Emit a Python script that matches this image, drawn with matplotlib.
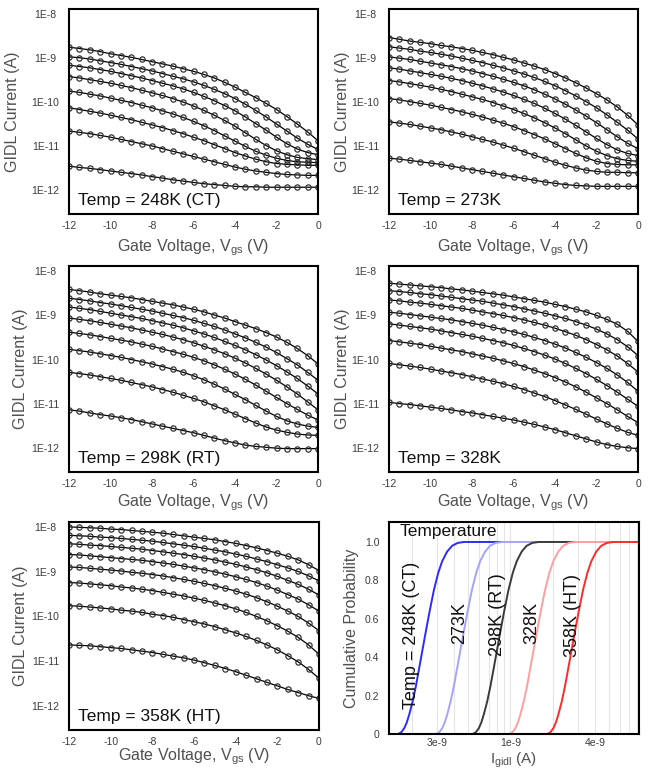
import numpy as np
import matplotlib
matplotlib.use("Agg")
import matplotlib.pyplot as plt
from matplotlib.ticker import LogLocator, NullLocator, NullFormatter

plt.rcParams['font.family'] = ['Liberation Sans', 'DejaVu Sans']

# gate voltage sweep (V)
vgs = [-12.0, -11.5, -11.0, -10.5, -10.0, -9.5, -9.0, -8.5, -8.0, -7.5, -7.0, -6.5,
       -6.0, -5.5, -5.0, -4.5, -4.0, -3.5, -3.0, -2.5, -2.0, -1.5, -1.0, -0.5, 0.0]

# log10 of GIDL current (A), 8 curves per temperature, top to bottom
log_i_248 = [
    [-8.75, -8.78, -8.81, -8.85, -8.90, -8.94, -8.98, -9.03, -9.08, -9.13, -9.18, -9.24, -9.30, -9.37, -9.45, -9.55, -9.66, -9.78, -9.90, -10.03, -10.17, -10.33, -10.50, -10.68, -10.88],
    [-8.97, -8.99, -9.02, -9.06, -9.10, -9.14, -9.19, -9.24, -9.29, -9.35, -9.41, -9.47, -9.54, -9.62, -9.71, -9.81, -9.92, -10.05, -10.19, -10.34, -10.50, -10.66, -10.82, -10.96, -11.08],
    [-9.16, -9.19, -9.22, -9.26, -9.30, -9.35, -9.40, -9.45, -9.51, -9.57, -9.63, -9.70, -9.78, -9.87, -9.97, -10.08, -10.20, -10.34, -10.49, -10.64, -10.80, -10.95, -11.07, -11.15, -11.20],
    [-9.42, -9.45, -9.49, -9.53, -9.57, -9.62, -9.67, -9.73, -9.79, -9.85, -9.92, -10.00, -10.09, -10.19, -10.30, -10.42, -10.55, -10.70, -10.85, -10.99, -11.11, -11.20, -11.26, -11.29, -11.31],
    [-9.75, -9.78, -9.82, -9.86, -9.91, -9.96, -10.01, -10.07, -10.13, -10.20, -10.27, -10.35, -10.44, -10.54, -10.65, -10.77, -10.89, -11.01, -11.12, -11.21, -11.28, -11.33, -11.36, -11.37, -11.38],
    [-10.13, -10.17, -10.21, -10.25, -10.30, -10.35, -10.40, -10.46, -10.52, -10.58, -10.65, -10.72, -10.80, -10.88, -10.97, -11.06, -11.15, -11.23, -11.30, -11.36, -11.40, -11.42, -11.43, -11.44, -11.44],
    [-10.66, -10.69, -10.72, -10.76, -10.80, -10.85, -10.90, -10.95, -11.00, -11.06, -11.12, -11.18, -11.24, -11.30, -11.36, -11.42, -11.48, -11.53, -11.57, -11.60, -11.63, -11.65, -11.66, -11.67, -11.67],
    [-11.46, -11.49, -11.51, -11.54, -11.57, -11.60, -11.63, -11.66, -11.70, -11.73, -11.77, -11.80, -11.83, -11.86, -11.88, -11.90, -11.92, -11.93, -11.93, -11.94, -11.94, -11.94, -11.94, -11.94, -11.94],
]
log_i_273 = [
    [-8.53, -8.57, -8.61, -8.64, -8.67, -8.71, -8.74, -8.78, -8.82, -8.87, -8.92, -8.98, -9.04, -9.11, -9.18, -9.26, -9.35, -9.45, -9.56, -9.68, -9.81, -9.95, -10.11, -10.30, -10.52],
    [-8.74, -8.77, -8.80, -8.84, -8.87, -8.91, -8.95, -9.00, -9.05, -9.10, -9.16, -9.22, -9.29, -9.36, -9.44, -9.53, -9.63, -9.74, -9.86, -9.99, -10.13, -10.29, -10.46, -10.64, -10.84],
    [-8.97, -9.00, -9.03, -9.07, -9.11, -9.15, -9.19, -9.24, -9.29, -9.35, -9.41, -9.48, -9.55, -9.63, -9.72, -9.82, -9.93, -10.05, -10.18, -10.32, -10.47, -10.63, -10.79, -10.94, -11.06],
    [-9.22, -9.25, -9.29, -9.33, -9.37, -9.41, -9.46, -9.51, -9.57, -9.63, -9.70, -9.77, -9.85, -9.94, -10.03, -10.14, -10.26, -10.39, -10.53, -10.68, -10.83, -10.97, -11.09, -11.17, -11.22],
    [-9.51, -9.54, -9.58, -9.62, -9.66, -9.71, -9.76, -9.82, -9.88, -9.94, -10.01, -10.09, -10.17, -10.26, -10.36, -10.47, -10.59, -10.72, -10.86, -11.00, -11.12, -11.22, -11.29, -11.33, -11.35],
    [-9.92, -9.95, -9.99, -10.03, -10.07, -10.12, -10.17, -10.22, -10.28, -10.34, -10.41, -10.48, -10.56, -10.65, -10.74, -10.84, -10.95, -11.06, -11.17, -11.27, -11.35, -11.40, -11.42, -11.43, -11.43],
    [-10.45, -10.48, -10.51, -10.55, -10.59, -10.63, -10.68, -10.73, -10.79, -10.85, -10.91, -10.98, -11.05, -11.13, -11.21, -11.29, -11.37, -11.44, -11.50, -11.55, -11.58, -11.60, -11.60, -11.61, -11.61],
    [-11.28, -11.30, -11.33, -11.36, -11.39, -11.42, -11.46, -11.50, -11.54, -11.58, -11.62, -11.66, -11.70, -11.74, -11.78, -11.82, -11.85, -11.88, -11.90, -11.91, -11.92, -11.92, -11.92, -11.92, -11.92],
]
log_i_298 = [
    [-8.41, -8.44, -8.47, -8.51, -8.54, -8.57, -8.60, -8.64, -8.68, -8.72, -8.76, -8.81, -8.86, -8.92, -8.99, -9.06, -9.14, -9.22, -9.30, -9.39, -9.49, -9.61, -9.75, -9.91, -10.10],
    [-8.61, -8.64, -8.67, -8.71, -8.74, -8.78, -8.82, -8.86, -8.90, -8.95, -9.00, -9.05, -9.11, -9.18, -9.25, -9.33, -9.42, -9.51, -9.61, -9.72, -9.84, -9.98, -10.12, -10.29, -10.47],
    [-8.81, -8.84, -8.87, -8.91, -8.95, -8.99, -9.03, -9.07, -9.12, -9.17, -9.22, -9.28, -9.35, -9.42, -9.50, -9.59, -9.68, -9.78, -9.89, -10.01, -10.14, -10.28, -10.43, -10.60, -10.78],
    [-9.06, -9.09, -9.12, -9.16, -9.20, -9.24, -9.28, -9.33, -9.38, -9.43, -9.49, -9.55, -9.62, -9.70, -9.78, -9.87, -9.97, -10.08, -10.20, -10.33, -10.47, -10.62, -10.78, -10.96, -11.14],
    [-9.38, -9.41, -9.44, -9.48, -9.52, -9.56, -9.60, -9.65, -9.70, -9.76, -9.82, -9.88, -9.95, -10.03, -10.12, -10.22, -10.33, -10.45, -10.58, -10.72, -10.86, -11.00, -11.13, -11.26, -11.37],
    [-9.77, -9.80, -9.83, -9.87, -9.91, -9.95, -10.00, -10.05, -10.10, -10.16, -10.22, -10.29, -10.37, -10.46, -10.56, -10.67, -10.79, -10.91, -11.04, -11.17, -11.29, -11.39, -11.46, -11.51, -11.54],
    [-10.29, -10.32, -10.35, -10.39, -10.43, -10.47, -10.52, -10.57, -10.62, -10.68, -10.74, -10.81, -10.88, -10.96, -11.05, -11.14, -11.24, -11.34, -11.44, -11.53, -11.60, -11.65, -11.69, -11.71, -11.72],
    [-11.14, -11.17, -11.21, -11.25, -11.28, -11.32, -11.36, -11.41, -11.46, -11.51, -11.56, -11.61, -11.66, -11.72, -11.78, -11.84, -11.89, -11.94, -11.97, -11.99, -12.01, -12.02, -12.02, -12.02, -12.02],
]
log_i_328 = [
    [-8.27, -8.29, -8.31, -8.33, -8.35, -8.37, -8.40, -8.42, -8.45, -8.48, -8.51, -8.54, -8.58, -8.62, -8.66, -8.70, -8.75, -8.80, -8.86, -8.92, -9.00, -9.09, -9.20, -9.36, -9.59],
    [-8.44, -8.46, -8.48, -8.51, -8.53, -8.56, -8.59, -8.62, -8.65, -8.68, -8.72, -8.76, -8.80, -8.85, -8.90, -8.95, -9.01, -9.07, -9.14, -9.22, -9.31, -9.42, -9.55, -9.71, -9.91],
    [-8.65, -8.67, -8.70, -8.72, -8.75, -8.78, -8.81, -8.84, -8.88, -8.92, -8.96, -9.00, -9.05, -9.10, -9.16, -9.22, -9.29, -9.37, -9.45, -9.55, -9.66, -9.78, -9.92, -10.09, -10.28],
    [-8.93, -8.95, -8.98, -9.01, -9.04, -9.07, -9.10, -9.14, -9.18, -9.22, -9.27, -9.32, -9.37, -9.43, -9.50, -9.57, -9.65, -9.74, -9.84, -9.95, -10.07, -10.20, -10.35, -10.52, -10.72],
    [-9.19, -9.22, -9.25, -9.28, -9.31, -9.35, -9.39, -9.43, -9.47, -9.52, -9.57, -9.62, -9.68, -9.75, -9.82, -9.90, -9.99, -10.09, -10.20, -10.32, -10.45, -10.59, -10.74, -10.90, -11.06],
    [-9.57, -9.60, -9.63, -9.66, -9.70, -9.74, -9.78, -9.82, -9.87, -9.92, -9.97, -10.03, -10.09, -10.16, -10.24, -10.32, -10.41, -10.51, -10.62, -10.74, -10.87, -11.00, -11.14, -11.29, -11.43],
    [-10.09, -10.12, -10.15, -10.18, -10.22, -10.26, -10.30, -10.34, -10.39, -10.44, -10.49, -10.55, -10.61, -10.68, -10.76, -10.84, -10.93, -11.03, -11.13, -11.24, -11.35, -11.46, -11.56, -11.65, -11.72],
    [-10.97, -11.00, -11.02, -11.05, -11.08, -11.11, -11.14, -11.18, -11.21, -11.25, -11.29, -11.33, -11.37, -11.42, -11.47, -11.53, -11.59, -11.66, -11.73, -11.80, -11.87, -11.93, -11.97, -12.00, -12.02],
]
log_i_358 = [
    [-7.99, -8.00, -8.01, -8.02, -8.04, -8.05, -8.07, -8.09, -8.11, -8.13, -8.16, -8.19, -8.22, -8.25, -8.28, -8.32, -8.36, -8.41, -8.46, -8.52, -8.58, -8.65, -8.73, -8.84, -8.97],
    [-8.18, -8.19, -8.20, -8.22, -8.23, -8.25, -8.27, -8.29, -8.31, -8.34, -8.37, -8.40, -8.43, -8.47, -8.51, -8.55, -8.60, -8.65, -8.71, -8.77, -8.84, -8.91, -8.99, -9.09, -9.20],
    [-8.37, -8.38, -8.40, -8.41, -8.43, -8.45, -8.47, -8.49, -8.52, -8.55, -8.58, -8.61, -8.65, -8.69, -8.73, -8.78, -8.83, -8.89, -8.95, -9.02, -9.10, -9.19, -9.28, -9.39, -9.52],
    [-8.61, -8.62, -8.64, -8.66, -8.68, -8.70, -8.72, -8.74, -8.77, -8.80, -8.83, -8.87, -8.91, -8.95, -9.00, -9.05, -9.11, -9.17, -9.24, -9.32, -9.41, -9.51, -9.61, -9.74, -9.88],
    [-8.89, -8.90, -8.92, -8.94, -8.96, -8.98, -9.01, -9.03, -9.06, -9.09, -9.13, -9.17, -9.21, -9.26, -9.31, -9.37, -9.43, -9.50, -9.58, -9.67, -9.77, -9.88, -10.00, -10.15, -10.32],
    [-9.24, -9.25, -9.27, -9.29, -9.31, -9.34, -9.36, -9.39, -9.42, -9.46, -9.50, -9.54, -9.59, -9.64, -9.70, -9.76, -9.83, -9.91, -10.00, -10.10, -10.21, -10.33, -10.47, -10.64, -10.85],
    [-9.76, -9.77, -9.79, -9.81, -9.83, -9.86, -9.88, -9.91, -9.95, -9.98, -10.02, -10.07, -10.12, -10.17, -10.23, -10.30, -10.37, -10.45, -10.54, -10.64, -10.75, -10.88, -11.02, -11.19, -11.39],
    [-10.64, -10.65, -10.66, -10.68, -10.70, -10.72, -10.75, -10.78, -10.81, -10.85, -10.89, -10.93, -10.98, -11.04, -11.10, -11.17, -11.24, -11.32, -11.40, -11.48, -11.56, -11.64, -11.71, -11.78, -11.84],
]
panel_data = [log_i_248, log_i_273, log_i_298, log_i_328, log_i_358]
panel_titles = ["Temp = 248K (CT)", "Temp = 273K", "Temp = 298K (RT)",
                "Temp = 328K", "Temp = 358K (HT)"]
ytick_vals = [1e-12, 1e-11, 1e-10, 1e-9, 1e-8]
ytick_text = ["1E-12", "1E-11", "1E-10", "1E-9", "1E-8"]
xtick_vals = [-12, -10, -8, -6, -4, -2, 0]

# cumulative distributions of Igidl: log10(I) at each probability level
cdf_prob = [0.0, 0.003, 0.01, 0.03, 0.06, 0.1, 0.17, 0.25, 0.37, 0.5,
            0.63, 0.75, 0.84, 0.9, 0.95, 0.98, 0.995, 1.0, 1.0]
cdf_log_248 = [-9.80, -9.79, -9.775, -9.755, -9.737, -9.72, -9.695, -9.672, -9.642, -9.61,
               -9.577, -9.544, -9.513, -9.485, -9.45, -9.415, -9.375, -9.33, -9.06]
cdf_log_273 = [-9.53, -9.52, -9.505, -9.485, -9.467, -9.45, -9.425, -9.402, -9.372, -9.34,
               -9.307, -9.274, -9.243, -9.215, -9.18, -9.145, -9.105, -9.06, -8.81]
cdf_log_298 = [-9.27, -9.26, -9.245, -9.225, -9.207, -9.19, -9.165, -9.142, -9.112, -9.08,
               -9.047, -9.014, -8.983, -8.955, -8.92, -8.885, -8.845, -8.80, -8.54]
cdf_log_328 = [-9.01, -9.00, -8.985, -8.965, -8.947, -8.93, -8.905, -8.882, -8.852, -8.82,
               -8.787, -8.754, -8.723, -8.695, -8.66, -8.625, -8.585, -8.54, -8.26]
cdf_log_358 = [-8.74, -8.73, -8.715, -8.695, -8.677, -8.66, -8.635, -8.612, -8.582, -8.55,
               -8.517, -8.484, -8.453, -8.425, -8.39, -8.355, -8.315, -8.27, -8.05]
cdf_data = [cdf_log_248, cdf_log_273, cdf_log_298, cdf_log_328, cdf_log_358]
cdf_colors = ["#2b2bff", "#a3a3ff", "#3a3a3a", "#ff9e9e", "#ff2a2a"]
cdf_labels = ["Temp = 248K (CT)", "273K", "298K (RT)", "328K", "358K (HT)"]
cdf_label_pos = [(0.091, 0.467), (0.284, 0.524), (0.434, 0.561), (0.572, 0.524), (0.734, 0.561)]
cdf_xtick_vals = [3e-10, 1e-9, 4e-9]
cdf_xtick_text = ["3e-9", "1e-9", "4e-9"]
cdf_yticks = [0, 0.2, 0.4, 0.6, 0.8, 1.0]
cdf_ytick_text = ["0", "0.2", "0.4", "0.6", "0.8", "1.0"]

W, H = 651, 772
fig = plt.figure(figsize=(W / 100, H / 100), dpi=100)


def px_axes(left, top, right, bottom):
    return fig.add_axes([left / W, 1 - bottom / H, (right - left) / W, (bottom - top) / H])


boxes = [(69, 9, 318, 214), (389, 9, 638, 214),
         (69, 266, 318, 472), (389, 266, 638, 472),
         (69, 522, 319, 730)]
ylabel_x = [-0.197, -0.157, -0.165, -0.157, -0.165]
xlabel_y = [-0.112, -0.112, -0.10, -0.10, -0.08]

tick_color = "#3c3c3c"
label_color = "#505050"

for i, box in enumerate(boxes):
    ax = px_axes(*box)
    for curve in panel_data[i]:
        ax.plot(vgs, 10 ** np.array(curve), color="black", lw=0.9,
                marker="o", ms=3.8, mfc="none", mec="#333333", mew=0.9)
    ax.set_yscale("log")
    ax.set_xlim(-12, 0)
    ax.set_ylim(10 ** -12.55, 10 ** -7.88)
    ax.set_yticks(ytick_vals)
    ax.set_yticklabels(ytick_text)
    ax.yaxis.set_minor_locator(NullLocator())
    ax.set_xticks(xtick_vals)
    ax.set_xticklabels([str(v) for v in xtick_vals])
    ax.tick_params(length=0, labelsize=7.5, labelcolor=tick_color)
    ax.tick_params(axis="y", pad=17)
    ax.tick_params(axis="x", pad=5)
    for lab in ax.get_yticklabels():
        lab.set_horizontalalignment("center")
    for s in ax.spines.values():
        s.set_linewidth(1.5)
        s.set_color("black")
    ax.set_ylabel("GIDL Current (A)", fontsize=11.5, color=label_color)
    ax.yaxis.set_label_coords(ylabel_x[i], 0.5)
    ax.set_xlabel(r"Gate Voltage, V$_{\mathregular{gs}}$ (V)", fontsize=11.5, color=label_color)
    ax.xaxis.set_label_coords(0.5, xlabel_y[i])
    ax.text(0.035, 0.064, panel_titles[i], transform=ax.transAxes,
            fontsize=12.5, ha="left", va="center", color="#111111")

# cumulative probability panel
ax = px_axes(389, 522, 639, 734)
ax.set_xscale("log")
ax.set_xlim(1.37e-10, 8.2e-9)
ax.set_ylim(0, 1.104)
ax.xaxis.set_minor_locator(LogLocator(base=10, subs=np.arange(2, 10)))
ax.xaxis.set_minor_formatter(NullFormatter())
ax.grid(True, which="both", axis="x", color="#e4e4e4", lw=0.8)
ax.set_axisbelow(True)
for j, logs in enumerate(cdf_data):
    ax.plot(10 ** np.array(logs), cdf_prob, color=cdf_colors[j], lw=1.4,
            solid_capstyle="round", solid_joinstyle="round")
    ax.text(cdf_label_pos[j][0], cdf_label_pos[j][1], cdf_labels[j], rotation=90,
            transform=ax.transAxes, ha="center", va="center", fontsize=13,
            color="#111111")
ax.text(0.044, 0.953, "Temperature", transform=ax.transAxes, ha="left", va="center",
        fontsize=12.5, color="#111111")
ax.set_xticks(cdf_xtick_vals)
ax.set_xticklabels(cdf_xtick_text)
ax.set_yticks(cdf_yticks)
ax.set_yticklabels(cdf_ytick_text)
ax.tick_params(which="both", length=0, labelsize=7.5, labelcolor=tick_color)
ax.tick_params(axis="y", pad=7)
ax.tick_params(axis="x", pad=3)
for s in ax.spines.values():
    s.set_linewidth(1.5)
    s.set_color("black")
ax.set_ylabel("Cumulative Probability", fontsize=11.5, color=label_color)
ax.yaxis.set_label_coords(-0.12, 0.5)
ax.set_xlabel(r"I$_{\mathregular{gidl}}$ (A)", fontsize=11, color=label_color)
ax.xaxis.set_label_coords(0.5, -0.078)

fig.savefig("out.png", dpi=100)
